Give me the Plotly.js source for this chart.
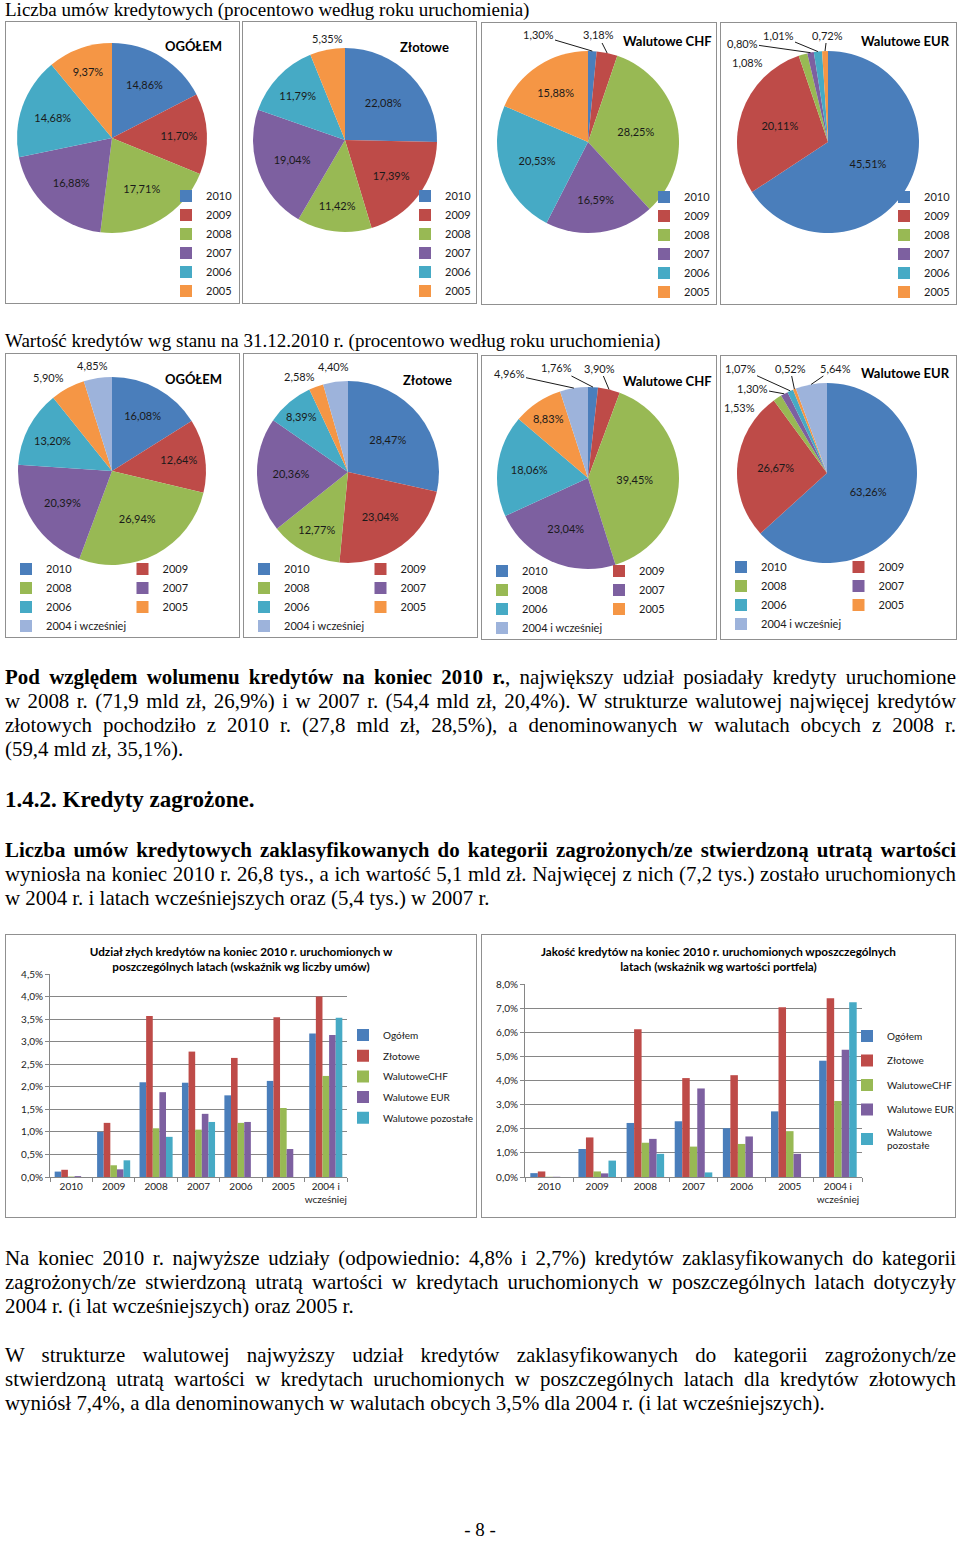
<!DOCTYPE html>
<html><head><meta charset="utf-8">
<script src="https://cdn.plot.ly/plotly-3.0.1.min.js"></script>
<style>
body{margin:0;background:#fff;}
#page{position:relative;width:960px;height:1541px;overflow:hidden;font-family:"Liberation Serif","Times New Roman",serif;color:#000;}
.t{position:absolute;left:5px;width:951px;font-size:20.9px;line-height:24px;white-space:nowrap;}
.cap{font-size:19px;width:auto;}
.j{text-align:justify;text-align-last:justify;}
.h{font-size:23px;font-weight:bold;width:auto;}
.box{position:absolute;border:1px solid #909090;}
</style></head>
<body><div id="page">
<div class="t cap" style="top:-2px">Liczba umów kredytowych (procentowo według roku uruchomienia)</div>
<div class="t cap" style="top:329px">Wartość kredytów wg stanu na 31.12.2010 r. (procentowo według roku uruchomienia)</div>

<div class="t j" style="top:665px"><b>Pod względem wolumenu kredytów na koniec 2010 r.</b>, największy udział posiadały kredyty uruchomione</div>
<div class="t j" style="top:689px">w 2008 r. (71,9 mld zł, 26,9%) i w 2007 r. (54,4 mld zł, 20,4%). W strukturze walutowej najwięcej kredytów</div>
<div class="t j" style="top:713px">złotowych pochodziło z 2010 r. (27,8 mld zł, 28,5%), a denominowanych w walutach obcych z 2008 r.</div>
<div class="t" style="top:737px">(59,4 mld zł, 35,1%).</div>

<div class="t h" style="top:788px">1.4.2. Kredyty zagrożone.</div>

<div class="t j" style="top:838px"><b>Liczba umów kredytowych zaklasyfikowanych do kategorii zagrożonych/ze stwierdzoną utratą wartości</b></div>
<div class="t j" style="top:862px">wyniosła na koniec 2010 r. 26,8 tys., a ich wartość 5,1 mld zł. Najwięcej z nich (7,2 tys.) zostało uruchomionych</div>
<div class="t" style="top:886px">w 2004 r. i latach wcześniejszych oraz (5,4 tys.) w 2007 r.</div>

<div class="t j" style="top:1246px">Na koniec 2010 r. najwyższe udziały (odpowiednio: 4,8% i 2,7%) kredytów zaklasyfikowanych do kategorii</div>
<div class="t j" style="top:1270px">zagrożonych/ze stwierdzoną utratą wartości w kredytach uruchomionych w poszczególnych latach dotyczyły</div>
<div class="t" style="top:1294px">2004 r. (i lat wcześniejszych) oraz 2005 r.</div>

<div class="t j" style="top:1343px">W strukturze walutowej najwyższy udział kredytów zaklasyfikowanych do kategorii zagrożonych/ze</div>
<div class="t j" style="top:1367px">stwierdzoną utratą wartości w kredytach uruchomionych w poszczególnych latach dla kredytów złotowych</div>
<div class="t" style="top:1391px">wyniósł 7,4%, a dla denominowanych w walutach obcych 3,5% dla 2004 r. (i lat wcześniejszych).</div>

<div style="position:absolute;top:1521px;left:450px;width:60px;text-align:center;font-size:19px;line-height:18px">- 8 -</div>
</div>
<script>
// ---------- DATA ----------
const years6 = ['2010','2009','2008','2007','2006','2005'];
const years7 = ['2010','2009','2008','2007','2006','2005','2004 i wcześniej'];
const pieTitles = ['OGÓŁEM','Złotowe','Walutowe CHF','Walutowe EUR'];

const countOgolem  = [14.86, 11.70, 17.71, 16.88, 14.68, 9.37];
const countZlotowe = [22.08, 17.39, 11.42, 19.04, 11.79, 5.35];
const countCHF     = [1.30, 3.18, 28.25, 16.59, 20.53, 15.88];
const countEUR     = [45.51, 20.11, 1.08, 0.80, 1.01, 0.72];

const valueOgolem  = [16.08, 12.64, 26.94, 20.39, 13.20, 5.90, 4.85];
const valueZlotowe = [28.47, 23.04, 12.77, 20.36, 8.39, 2.58, 4.40];
const valueCHF     = [1.76, 3.90, 39.45, 23.04, 18.06, 8.83, 4.96];
const valueEUR     = [63.26, 26.67, 1.53, 1.30, 1.07, 0.52, 5.64];

const barCategories = ['2010','2009','2008','2007','2006','2005','2004 i<br>wcześniej'];
const barSeries1 = ['Ogółem','Złotowe','WalutoweCHF','Walutowe EUR','Walutowe pozostałe'];
const barSeries2 = ['Ogółem','Złotowe','WalutoweCHF','Walutowe EUR','Walutowe<br>pozostałe'];
const barTitle1 = 'Udział złych kredytów na koniec 2010 r. uruchomionych w<br>poszczególnych latach (wskaźnik wg liczby umów)';
const barTitle2 = 'Jakość kredytów na koniec 2010 r. uruchomionych wposzczególnych<br>latach (wskaźnik wg wartości portfela)';

const badCountOgolem  = [0.12, 1.00, 2.10, 2.09, 1.81, 2.13, 3.18];
const badCountZlotowe = [0.16, 1.20, 3.57, 2.78, 2.64, 3.54, 4.00];
const badCountCHF     = [0.01, 0.26, 1.08, 1.05, 1.20, 1.53, 2.24];
const badCountEUR     = [0.02, 0.17, 1.88, 1.40, 1.22, 0.62, 3.15];
const badCountOther   = [0.00, 0.37, 0.89, 1.22, 0.00, 0.00, 3.53];

const badValueOgolem  = [0.16, 1.16, 2.24, 2.31, 2.02, 2.72, 4.82];
const badValueZlotowe = [0.23, 1.64, 6.12, 4.10, 4.22, 7.04, 7.41];
const badValueCHF     = [0.01, 0.23, 1.42, 1.26, 1.37, 1.90, 3.15];
const badValueEUR     = [0.01, 0.15, 1.58, 3.67, 1.68, 0.96, 5.27];
const badValueOther   = [0.00, 0.68, 0.96, 0.19, 0.00, 0.00, 7.24];

// ---------- STYLE / LAYOUT ----------
const pieColors = ['#4A7EBB','#BE4B48','#98B954','#7D60A0','#46AAC5','#F59645','#9DB3DB'];
const barColors = ['#4A7EBB','#BE4B48','#98B954','#7D60A0','#46AAC5'];
const FONT = 'Lato, "Open Sans", "DejaVu Sans", sans-serif';
const page = document.getElementById('page');

function makeBox(box) {
  const d = document.createElement('div');
  d.className = 'box';
  d.style.left = box[0] + 'px'; d.style.top = box[1] + 'px';
  d.style.width = (box[2] - 2) + 'px'; d.style.height = (box[3] - 2) + 'px';
  const inner = document.createElement('div');
  d.appendChild(inner);
  page.appendChild(d);
  return inner;
}
function fmtPct(v) { return v.toFixed(2).replace('.', ',') + '%'; }

// positions in page pixels (layout only); out = label placement for small slices [x, y, leader]
const pieSpecs = [
  {box:[5,21,235,283],  c:[112,138], r:95, t:[165,46],  lg:[186,196], h:false, out:[]},
  {box:[242,21,235,283],c:[345,140], r:92, t:[400,47],  lg:[425,196], h:false, out:[[327,38,0]]},
  {box:[481,22,236,283],c:[588,142], r:91, t:[623,41],  lg:[664,197], h:false, out:[[538,35,1],[598,35,1]]},
  {box:[720,22,237,283],c:[828,142], r:91, t:[861,41],  lg:[904,197], h:false, out:[[747,63,0],[742,43,1],[778,35,1],[827,35,1]]},
  {box:[5,353,235,285], c:[112,471], r:94, t:[165,379], lg:[24,569], h:true, out:[[48,377,0],[92,366,0]]},
  {box:[243,353,235,285],c:[348,472],r:91, t:[403,380], lg:[260,569], h:true, out:[[299,376,0],[333,367,0]]},
  {box:[481,355,236,285],c:[588,478],r:91, t:[623,381], lg:[497,571], h:true, out:[[556,368,1],[600,368,1],[509,374,1]]},
  {box:[720,355,237,285],c:[827,473],r:90, t:[861,373], lg:[736,567], h:true, out:[[739,408,0],[752,388,1],[740,368,1],[790,368,1],[835,368,1]]}
];
const pieData = [
  [years6, countOgolem], [years6, countZlotowe], [years6, countCHF], [years6, countEUR],
  [years7, valueOgolem], [years7, valueZlotowe], [years7, valueCHF], [years7, valueEUR]
];

pieData.forEach((pd, i) => {
  const s = pieSpecs[i];
  const labels = pd[0], values = pd[1];
  const W = s.box[2] - 2, H = s.box[3] - 2;
  const ox = s.box[0] + 1, oy = s.box[1] + 1;
  const px2x = p => (p - ox) / W, py2y = p => 1 - (p - oy) / H;
  const total = values.reduce((a, b) => a + b, 0);
  const small = values.map(v => v / total < 0.07);
  const div = makeBox(s.box);
  const trace = {
    type: 'pie', labels: labels, values: values, sort: false, direction: 'clockwise', rotation: 0,
    marker: {colors: pieColors.slice(0, labels.length), line: {width: 0}},
    texttemplate: small.map(f => f ? '' : '%{value:.2f}%'), textposition: 'inside',
    insidetextorientation: 'horizontal',
    textfont: {family: FONT, size: 11, color: '#1a1a1a'},
    hoverinfo: 'none',
    domain: {x: [px2x(s.c[0] - s.r), px2x(s.c[0] + s.r)], y: [py2y(s.c[1] + s.r), py2y(s.c[1] - s.r)]}
  };
  // outside labels for small slices, leader tip computed from slice mid-angle
  const annotations = [];
  let cum = 0, k = 0;
  values.forEach((v, j) => {
    const mid = (cum + v / 2) / total * 2 * Math.PI;
    cum += v;
    if (!small[j]) return;
    const o = s.out[k++];
    if (!o) return;
    const tipX = s.c[0] + s.r * Math.sin(mid), tipY = s.c[1] - s.r * Math.cos(mid);
    const a = {text: fmtPct(v), font: {family: FONT, size: 11, color: '#1a1a1a'},
               xref: 'paper', yref: 'paper', xanchor: 'center', yanchor: 'middle'};
    if (o[2]) {
      Object.assign(a, {x: px2x(tipX), y: py2y(tipY), showarrow: true, arrowhead: 0,
                        arrowwidth: 0.9, arrowcolor: '#000', ax: o[0] - tipX, ay: o[1] - tipY, standoff: 0});
    } else {
      Object.assign(a, {x: px2x(o[0]), y: py2y(o[1]), showarrow: false});
    }
    annotations.push(a);
  });
  const legend = {
    x: Math.max(0, px2x(s.lg[0] - 20)), y: py2y(s.lg[1] - 14.5),
    xanchor: 'left', yanchor: 'top', bgcolor: 'rgba(0,0,0,0)',
    font: {family: FONT, size: 11, color: '#1a1a1a'}
  };
  if (s.h) { legend.orientation = 'h'; legend.entrywidthmode = 'fraction'; legend.entrywidth = 0.5; }
  const layout = {
    width: W, height: H, margin: {l: 0, r: 0, t: 0, b: 0, autoexpand: false},
    paper_bgcolor: '#fff', separators: ', ', showlegend: true,
    uniformtext: {mode: 'show', minsize: 11},
    title: {text: '<b>' + pieTitles[i % 4] + '</b>', xref: 'paper', yref: 'paper',
            x: px2x(s.t[0]), y: py2y(s.t[1]), xanchor: 'left', yanchor: 'middle',
            font: {family: FONT, size: 13, color: '#000'}},
    legend: legend,
    annotations: annotations
  };
  Plotly.newPlot(div, [trace], layout, {staticPlot: true, displayModeBar: false});
});

const barSpecs = [
  {box:[5,934,472,284], m:{l:44,r:129,t:39,b:40}, ymax:4.5, dtick:0.5, lg:[369,1035], gap:1.7, lgoff:26},
  {box:[481,934,475,284], m:{l:43,r:93,t:49,b:40}, ymax:8, dtick:1, lg:[875,1036], gap:5.5, lgoff:28}
];
const barData = [
  [barTitle1, barSeries1, [badCountOgolem, badCountZlotowe, badCountCHF, badCountEUR, badCountOther]],
  [barTitle2, barSeries2, [badValueOgolem, badValueZlotowe, badValueCHF, badValueEUR, badValueOther]]
];
barData.forEach((bd, i) => {
  const s = barSpecs[i];
  const W = s.box[2] - 2, H = s.box[3] - 2;
  const ox = s.box[0] + 1, oy = s.box[1] + 1;
  const div = makeBox(s.box);
  const traces = bd[1].map((name, k) => ({
    type: 'bar', x: barCategories, y: bd[2][k], name: name, legendgroup: 'g' + k,
    marker: {color: barColors[k], line: {width: 0}}, hoverinfo: 'none'
  }));
  const axisCol = '#868686';
  const layout = {
    width: W, height: H, margin: Object.assign({autoexpand: false}, s.m), paper_bgcolor: '#fff', plot_bgcolor: '#fff',
    separators: ', ', barmode: 'group', bargap: 0.22, bargroupgap: 0,
    title: {text: '<b>' + bd[0] + '</b>', x: 0.5, xref: 'container', xanchor: 'center',
            y: 1 - 21 / H, yref: 'container', yanchor: 'top', pad: {t: 0, b: 0},
            font: {family: FONT, size: 11.7, color: '#000'}},
    xaxis: {type: 'category', tickson: 'boundaries', ticks: 'outside', ticklen: 4, tickcolor: axisCol,
            showline: true, linecolor: axisCol, showgrid: false, tickangle: 0,
            tickfont: {family: FONT, size: 10, color: '#222'}},
    yaxis: {range: [0, s.ymax], dtick: s.dtick, tick0: 0, tickformat: '.1f', ticksuffix: '%',
            ticks: 'outside', ticklen: 4, tickcolor: axisCol, showline: true, linecolor: axisCol,
            showgrid: true, gridcolor: axisCol, zeroline: false,
            tickfont: {family: FONT, size: 10, color: '#222'}},
    showlegend: true,
    legend: {xref: 'container', yref: 'container', x: (s.lg[0] - s.lgoff - ox) / W,
             y: 1 - (s.lg[1] - 14.5 - oy) / H, xanchor: 'left', yanchor: 'top',
             traceorder: 'grouped', tracegroupgap: s.gap, bgcolor: 'rgba(0,0,0,0)',
             font: {family: FONT, size: 10, color: '#1a1a1a'}}
  };
  Plotly.newPlot(div, traces, layout, {staticPlot: true, displayModeBar: false});
});
</script>
</body></html>
